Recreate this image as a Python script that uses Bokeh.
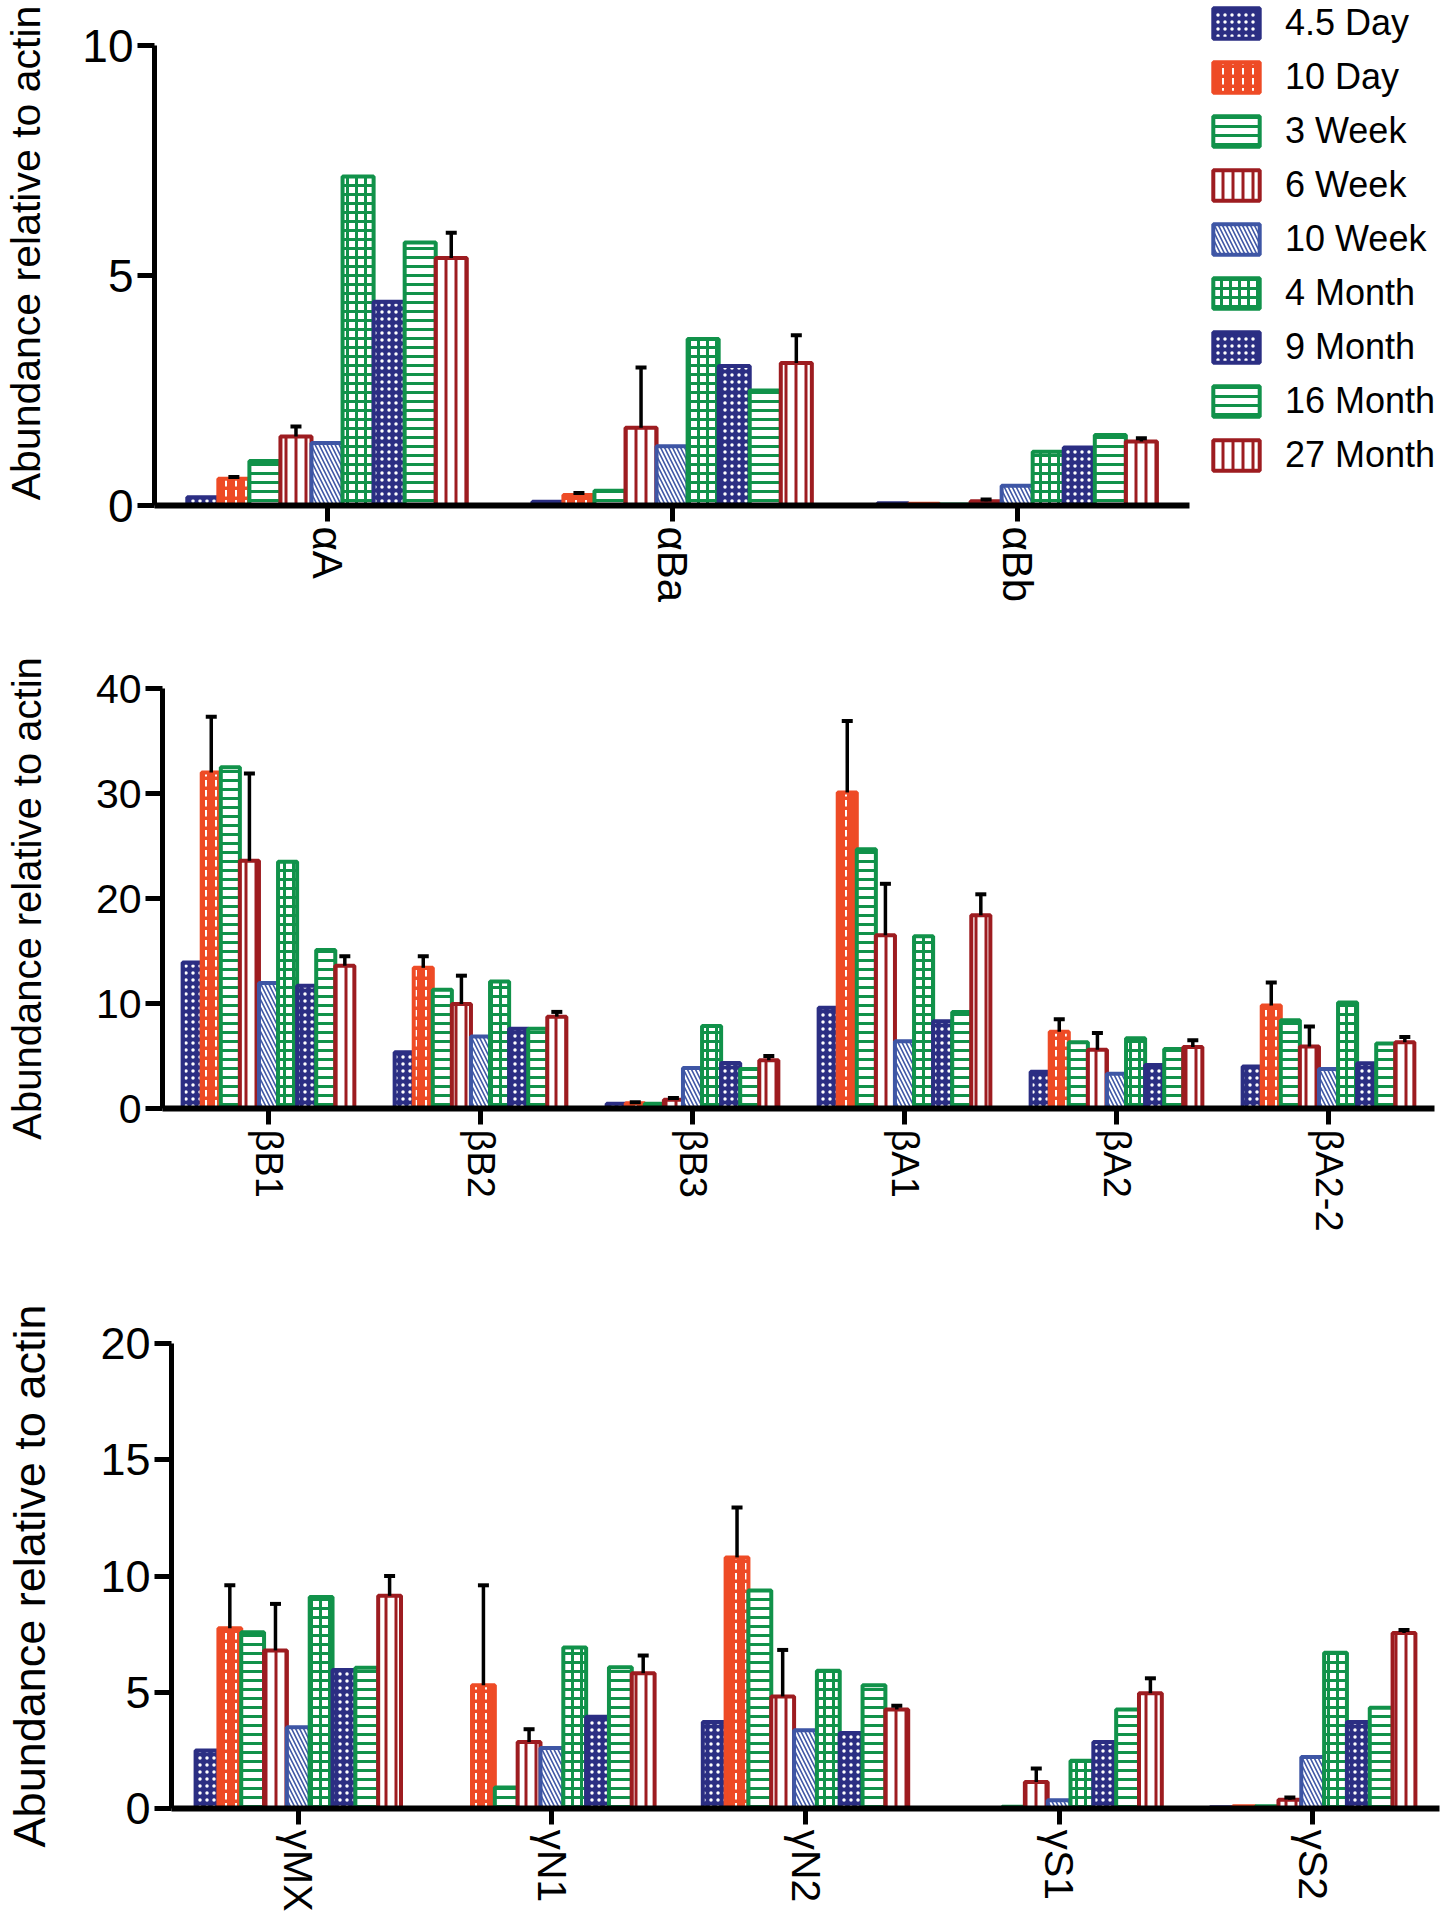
from bokeh.plotting import figure
from bokeh.layouts import column, row
from bokeh.models import ColumnDataSource, FactorRange, Range1d, FixedTicker, Legend, LegendItem
from bokeh.transform import dodge
from bokeh.embed import file_html
from bokeh.resources import INLINE

FONT = "Liberation Sans"

# ---------------- data ----------------
series = ["4.5 Day", "10 Day", "3 Week", "6 Week", "10 Week",
          "4 Month", "9 Month", "16 Month", "27 Month"]

alpha_cats = ["αA", "αBa", "αBb"]
alpha_vals = [
    [0.18, 0.08, 0.05],   # 4.5 Day
    [0.58, 0.23, 0.04],   # 10 Day
    [0.97, 0.32, 0.02],   # 3 Week
    [1.50, 1.69, 0.09],   # 6 Week
    [1.36, 1.29, 0.43],   # 10 Week
    [7.15, 3.62, 1.17],   # 4 Month
    [4.43, 3.03, 1.26],   # 9 Month
    [5.72, 2.50, 1.53],   # 16 Month
    [5.38, 3.10, 1.39],   # 27 Month
]
alpha_err = [
    [0, 0, 0],
    [0.04, 0.04, 0],
    [0, 0, 0],
    [0.22, 1.31, 0.04],
    [0, 0, 0],
    [0, 0, 0],
    [0, 0, 0],
    [0, 0, 0],
    [0.55, 0.60, 0.07],
]

beta_cats = ["βB1", "βB2", "βB3", "βA1", "βA2", "βA2-2"]
beta_vals = [
    [13.9, 5.35, 0.45, 9.6, 3.5, 4.0],     # 4.5 Day
    [32.0, 13.4, 0.50, 30.1, 7.3, 9.8],    # 10 Day
    [32.5, 11.3, 0.45, 24.7, 6.3, 8.4],    # 3 Week
    [23.6, 9.95, 0.83, 16.5, 5.6, 5.9],    # 6 Week
    [11.95, 6.85, 3.85, 6.4, 3.3, 3.77],   # 10 Week
    [23.5, 12.1, 7.85, 16.4, 6.7, 10.1],   # 4 Month
    [11.7, 7.6, 4.34, 8.3, 4.15, 4.3],     # 9 Month
    [15.1, 7.6, 3.77, 9.2, 5.66, 6.2],     # 16 Month
    [13.6, 8.75, 4.6, 18.4, 5.85, 6.3],    # 27 Month
]
beta_err = [
    [0, 0, 0, 0, 0, 0],
    [5.3, 1.1, 0.1, 6.8, 1.2, 2.2],
    [0, 0, 0, 0, 0, 0],
    [8.3, 2.7, 0.17, 4.9, 1.6, 1.9],
    [0, 0, 0, 0, 0, 0],
    [0, 0, 0, 0, 0, 0],
    [0, 0, 0, 0, 0, 0],
    [0, 0, 0, 0, 0, 0],
    [0.9, 0.45, 0.4, 2.0, 0.65, 0.5],
]

gamma_cats = ["γMX", "γN1", "γN2", "γS1", "γS2"]
gamma_vals = [
    [2.5, 0.0, 3.72, 0.0, 0.05],     # 4.5 Day
    [7.75, 5.3, 10.8, 0.0, 0.10],    # 10 Day
    [7.58, 0.9, 9.38, 0.08, 0.10],   # 3 Week
    [6.8, 2.86, 4.82, 1.14, 0.38],   # 6 Week
    [3.5, 2.6, 3.37, 0.35, 2.22],    # 10 Week
    [9.1, 6.93, 5.93, 2.05, 6.7],    # 4 Month
    [5.96, 3.95, 3.25, 2.86, 3.72],  # 9 Month
    [6.05, 6.08, 5.3, 4.26, 4.33],   # 16 Month
    [9.15, 5.82, 4.26, 4.96, 7.55],  # 27 Month
]
gamma_err = [
    [0, 0, 0, 0, 0],
    [1.85, 4.3, 2.15, 0, 0],
    [0, 0, 0, 0, 0],
    [2.0, 0.55, 2.0, 0.58, 0.09],
    [0, 0, 0, 0, 0],
    [0, 0, 0, 0, 0],
    [0, 0, 0, 0, 0],
    [0, 0, 0, 0, 0],
    [0.85, 0.76, 0.16, 0.64, 0.13],
]

# ---------------- styles ----------------
NAVY, ORANGE, GREEN, RED, BLUE = "#2B2E83", "#EE4B26", "#11924A", "#9D1C20", "#3E56A5"
line_colors = [NAVY, ORANGE, GREEN, RED, BLUE, GREEN, NAVY, GREEN, RED]
fill_colors = [NAVY, ORANGE, "white", "white", BLUE, "white", NAVY, "white", "white"]
hatch_patterns = ["dot", "vertical_dash", "horizontal_line", "vertical_line",
                  "left_diagonal_line", "cross", "dot", "horizontal_line", "vertical_line"]
hatch_colors = ["white", "white", GREEN, RED, "white", GREEN, "white", GREEN, RED]
hatch_scales = [7, 10, 9, 10, 8, 9, 7, 9, 10]
hatch_weights = [1, 2, 3, 3, 2, 3, 1, 3, 3]

BW = 0.09  # bar width as fraction of a category slot


def bar_style(i):
    return dict(fill_color=fill_colors[i], line_color=line_colors[i], line_width=4,
                hatch_pattern=hatch_patterns[i], hatch_color=hatch_colors[i],
                hatch_scale=hatch_scales[i], hatch_weight=hatch_weights[i])


def style_axes(p, y_ticks, tick_fs, xlab_fs, ylab_fs, ylab_standoff):
    ya = p.yaxis[0]
    ya.ticker = FixedTicker(ticks=y_ticks, minor_ticks=[])
    ya.axis_line_width = 5
    ya.axis_line_color = "black"
    ya.major_tick_line_width = 5
    ya.major_tick_out = 17
    ya.major_tick_in = 0
    ya.minor_tick_line_color = None
    ya.major_label_text_font = FONT
    ya.major_label_text_font_size = f"{tick_fs}px"
    ya.major_label_text_color = "black"
    ya.major_label_standoff = 4
    ya.axis_label = "Abundance relative to actin"
    ya.axis_label_text_font = FONT
    ya.axis_label_text_font_size = f"{ylab_fs}px"
    ya.axis_label_text_font_style = "normal"
    ya.axis_label_text_color = "black"
    ya.axis_label_standoff = ylab_standoff

    xa = p.xaxis[0]
    xa.axis_line_width = 6
    xa.axis_line_color = "black"
    xa.major_tick_line_width = 5
    xa.major_tick_out = 16
    xa.major_tick_in = 0
    xa.minor_tick_line_color = None
    xa.major_label_orientation = "vertical"
    xa.major_label_text_font = FONT
    xa.major_label_text_font_size = f"{xlab_fs}px"
    xa.major_label_text_color = "black"
    xa.major_label_standoff = 5


def draw_bars(p, xfield, xs, vals, errs, xr):
    rs = []
    for i in range(len(series)):
        off = (i - 4) * BW
        src = ColumnDataSource({xfield: xs, "val": vals[i]})
        r = p.vbar(x=dodge(xfield, off, range=xr), top="val", bottom=0, width=BW,
                   source=src, **bar_style(i))
        rs.append(r)
    for i in range(len(series)):
        off = (i - 4) * BW
        ec = [c for c, e in zip(xs, errs[i]) if e > 0]
        if not ec:
            continue
        ev = [v for v, e in zip(vals[i], errs[i]) if e > 0]
        et = [v + e for v, e in zip(vals[i], errs[i]) if e > 0]
        src = ColumnDataSource({xfield: ec, "val": ev, "top": et})
        x = dodge(xfield, off, range=xr)
        p.segment(x0=x, y0="val", x1=x, y1="top", source=src, line_color="black", line_width=3.5)
        p.scatter(x=x, y="top", source=src, marker="dash", size=11, line_color="black", line_width=4)
    return rs


def make_panel(cats, vals, errs, y_max, y_ticks, width, height, b_top, frame_h,
               b_left, frame_w, tick_fs, xlab_fs, ylab_fs, ylab_standoff):
    xr = FactorRange(factors=cats)
    p = figure(x_range=xr, y_range=Range1d(0, y_max),
               width=width, height=height, output_backend="svg", toolbar_location=None,
               min_border_left=b_left, min_border_right=width - b_left - frame_w,
               min_border_top=b_top, min_border_bottom=height - b_top - frame_h)
    p.outline_line_color = None
    p.xgrid.visible = False
    p.ygrid.visible = False
    draw_bars(p, "cat", cats, vals, errs, xr)
    style_axes(p, y_ticks, tick_fs, xlab_fs, ylab_fs, ylab_standoff)
    return p


# ---- top panel: the frame also hosts the legend; axes limited with bounds ----
P1_W, P1_H = 1441, 640
P1_LEFT, P1_FRAME_TOP, P1_AXIS_TOP, P1_BOTTOM_Y = 152, 0, 45, 505
P1_SLOT = 345.6
p1_frame_w = P1_W - P1_LEFT
p1_frame_h = P1_BOTTOM_Y - P1_FRAME_TOP
n1 = len(alpha_cats)
alpha_pos = list(range(1, n1 + 1))
p1 = figure(x_range=Range1d(0.5, 0.5 + p1_frame_w / P1_SLOT),
            y_range=Range1d(0, 10 * p1_frame_h / (P1_BOTTOM_Y - P1_AXIS_TOP)),
            width=P1_W, height=P1_H, output_backend="svg", toolbar_location=None,
            min_border_left=P1_LEFT, min_border_right=0, min_border_top=P1_FRAME_TOP,
            min_border_bottom=P1_H - P1_BOTTOM_Y)
p1.outline_line_color = None
p1.xgrid.visible = False
p1.ygrid.visible = False
rs1 = draw_bars(p1, "pos", alpha_pos, alpha_vals, alpha_err, None)
style_axes(p1, [0, 5, 10], 46, 42, 41, 30)
p1.yaxis[0].bounds = (0, 10)
p1.xaxis[0].bounds = (0.5, n1 + 0.5)
p1.xaxis[0].ticker = FixedTicker(ticks=alpha_pos, minor_ticks=[])
p1.xaxis[0].major_label_overrides = {k: c for k, c in zip(alpha_pos, alpha_cats)}

legend = Legend(items=[LegendItem(label=s, renderers=[r]) for s, r in zip(series, rs1)],
                location=(1053, 29), orientation="vertical",
                glyph_width=58, glyph_height=38, spacing=12, padding=0, margin=0,
                label_standoff=20, label_height=41,
                label_text_font=FONT, label_text_font_size="36px", label_text_color="black",
                border_line_color=None, background_fill_alpha=0)
p1.add_layout(legend)

p2 = make_panel(beta_cats, beta_vals, beta_err, 40, [0, 10, 20, 30, 40],
                width=1441, height=603, b_top=48, frame_h=420, b_left=162, frame_w=1272,
                tick_fs=41, xlab_fs=38, ylab_fs=40, ylab_standoff=44)
p3 = make_panel(gamma_cats, gamma_vals, gamma_err, 20, [0, 5, 10, 15, 20],
                width=1441, height=677, b_top=100, frame_h=465, b_left=171, frame_w=1268,
                tick_fs=45, xlab_fs=41, ylab_fs=45, ylab_standoff=42)

layout = column(row(p1), row(p2), row(p3), spacing=0)
open("out.html", "w").write(file_html(layout, INLINE))
